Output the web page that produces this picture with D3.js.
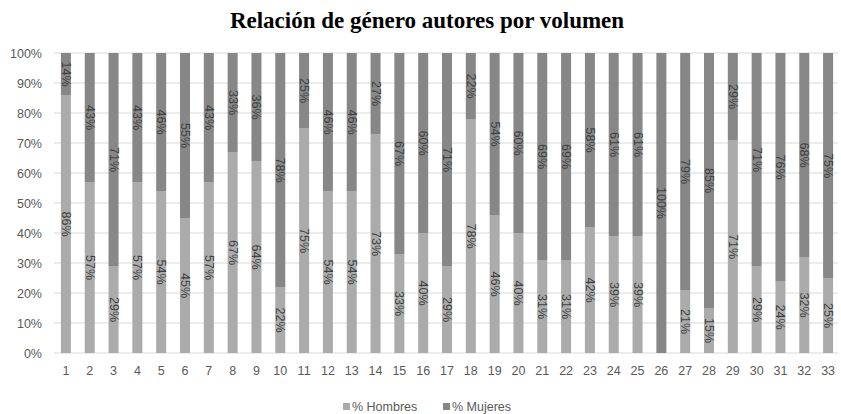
<!DOCTYPE html>
<html lang="es">
<head>
  <meta charset="UTF-8">
  <title>Relación de género autores por volumen</title>
  <script src="https://d3js.org/d3.v7.min.js"></script>
  <style>
    body { margin: 0; background: #fff; }
    .title { font-family: "Liberation Serif", "Times New Roman", serif; font-weight: bold; font-size: 23px; fill: #000; }
    .tick text { font-family: "Liberation Sans", Arial, sans-serif; font-size: 12.5px; fill: #595959; }
    .lbl { font-family: "Liberation Sans", Arial, sans-serif; font-size: 12.5px; fill: #404040; }
    .legend text { font-family: "Liberation Sans", Arial, sans-serif; font-size: 12.5px; fill: #595959; }
  </style>
</head>
<body>
  <div id="chart"></div>
  <script>
    // datos: volúmenes y porcentajes por género
    const volumenes = d3.range(1, 34).map(String);
    const hombres = [86, 57, 29, 57, 54, 45, 57, 67, 64, 22, 75, 54, 54, 73, 33, 40, 29, 78, 46, 40, 31, 31, 42, 39, 39, 0, 21, 15, 71, 29, 24, 32, 25];
    const mujeres = [14, 43, 71, 43, 46, 55, 43, 33, 36, 78, 25, 46, 46, 27, 67, 60, 71, 22, 54, 60, 69, 69, 58, 61, 61, 100, 79, 85, 29, 71, 76, 68, 75];
    const series = ["% Hombres", "% Mujeres"];
    const colores = ["#ababab", "#878787"];
    const yTicks = [0, 10, 20, 30, 40, 50, 60, 70, 80, 90, 100];

    const width = 841, height = 414;
    const margin = { top: 53, right: 1, bottom: 61, left: 54 };

    const svg = d3.select("#chart").append("svg")
      .attr("width", width)
      .attr("height", height);

    svg.append("text")
      .attr("class", "title")
      .attr("x", 427)
      .attr("y", 28)
      .attr("text-anchor", "middle")
      .text("Relación de género autores por volumen");

    const x = d3.scaleBand()
      .domain(volumenes)
      .range([margin.left, width - margin.right])
      .paddingInner(0.58)
      .paddingOuter(0.29);

    const y = d3.scaleLinear()
      .domain([0, 100])
      .range([height - margin.bottom, margin.top]);

    // lineas de cuadricula
    svg.append("g")
      .selectAll("line")
      .data(yTicks)
      .join("line")
      .attr("x1", margin.left)
      .attr("x2", width - margin.right - 2)
      .attr("y1", d => y(d))
      .attr("y2", d => y(d))
      .attr("stroke", "#d9d9d9")
      .attr("stroke-width", 1);

    // eje y
    const yAxis = svg.append("g")
      .attr("transform", `translate(${margin.left - 10},0)`)
      .call(d3.axisLeft(y).tickValues(yTicks).tickFormat(d => d + "%").tickSize(0).tickPadding(2));
    yAxis.select(".domain").remove();

    // eje x
    const xAxis = svg.append("g")
      .attr("transform", `translate(0,${height - margin.bottom})`)
      .call(d3.axisBottom(x).tickSize(0).tickPadding(13));
    xAxis.select(".domain").remove();

    // barras apiladas
    const filas = volumenes.map((v, i) => ({ vol: v, h: hombres[i], m: mujeres[i] }));
    const stack = d3.stack().keys(["h", "m"])(filas);

    const capas = svg.append("g")
      .selectAll("g")
      .data(stack)
      .join("g")
      .attr("fill", (d, i) => colores[i]);

    capas.selectAll("rect")
      .data(d => d)
      .join("rect")
      .attr("x", d => x(d.data.vol))
      .attr("width", x.bandwidth())
      .attr("y", d => y(d[1]))
      .attr("height", d => y(d[0]) - y(d[1]));

    // etiquetas de datos giradas
    capas.selectAll("text")
      .data(d => d.filter(s => s[1] - s[0] > 0))
      .join("text")
      .attr("class", "lbl")
      .attr("text-anchor", "middle")
      .attr("dominant-baseline", "central")
      .attr("transform", d => `translate(${x(d.data.vol) + x.bandwidth() / 2},${y((d[0] + d[1]) / 2)}) rotate(90)`)
      .text(d => (d[1] - d[0]) + "%");

    // leyenda
    const legend = svg.append("g").attr("class", "legend");
    const legX = [343, 443];
    series.forEach((s, i) => {
      legend.append("rect")
        .attr("x", legX[i])
        .attr("y", 403)
        .attr("width", 7)
        .attr("height", 7)
        .attr("fill", colores[i]);
      legend.append("text")
        .attr("x", legX[i] + 9)
        .attr("y", 411)
        .text(s);
    });
  </script>
</body>
</html>
